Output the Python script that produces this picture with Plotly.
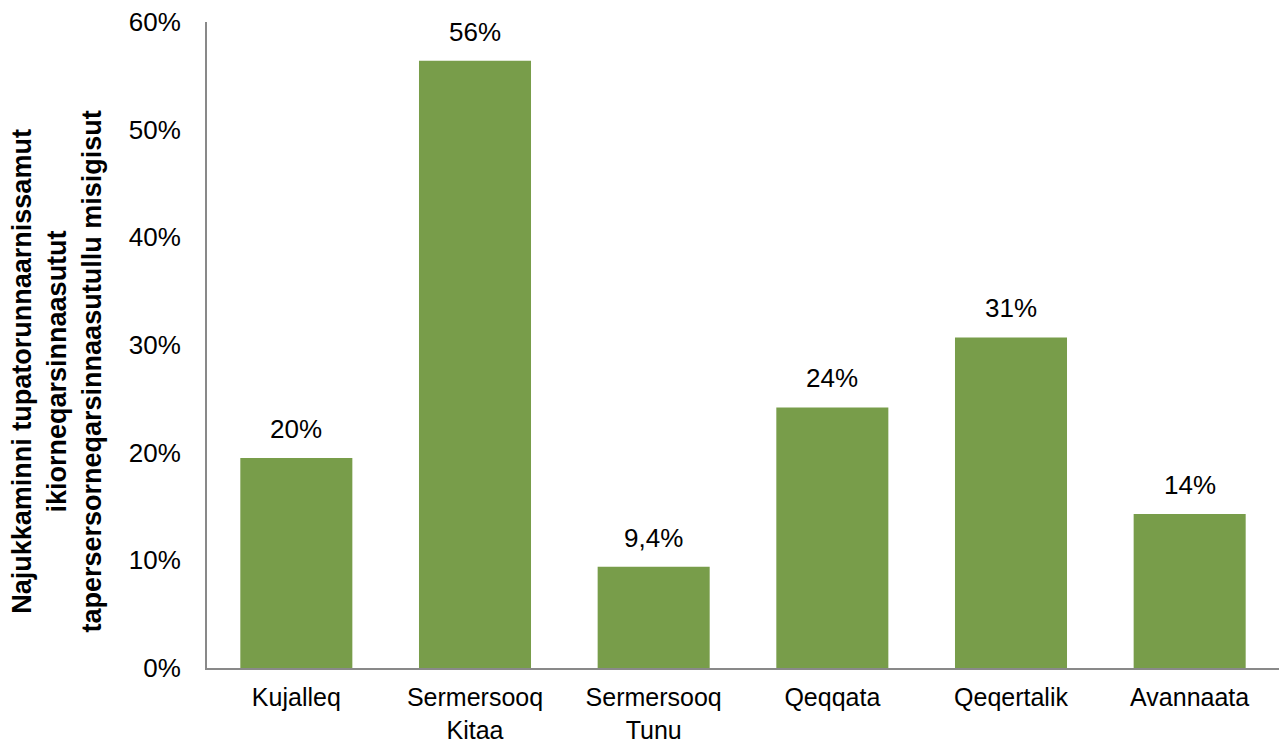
import plotly.graph_objects as go

categories = ["Kujalleq", "Sermersooq<br>Kitaa", "Sermersooq<br>Tunu", "Qeqqata", "Qeqertalik", "Avannaata"]
values = [19.5, 56.4, 9.4, 24.2, 30.7, 14.3]
labels = ["20%", "56%", "9,4%", "24%", "31%", "14%"]
tick_vals = [0, 10, 20, 30, 40, 50, 60]
tick_text = ["0%", "10%", "20%", "30%", "40%", "50%", "60%"]
y_title = "<b>Najukkaminni tupatorunnaarnissamut<br>ikiorneqarsinnaasutut<br>tapersersorneqarsinnaasutullu misigisut</b>"

FONT = "Liberation Sans, Arial, sans-serif"
BAR = "#789D4A"
AXIS = "#898989"

fig = go.Figure()
fig.add_trace(go.Bar(x=categories, y=values, marker=dict(color=BAR, line=dict(width=0)),
                     hoverinfo="skip"))

for c, v, t in zip(categories, values, labels):
    fig.add_annotation(x=c, y=v, text=t, showarrow=False, yanchor="bottom", yshift=12,
                       font=dict(family=FONT, size=26, color="#000000"))

fig.add_annotation(xref="paper", yref="paper", x=(56 - 207) / (1279 - 207), y=(667.5 - 371) / 646,
                   text=y_title, textangle=-90, showarrow=False, xanchor="center", yanchor="middle",
                   font=dict(family=FONT, size=27, color="#000000"), align="center")

fig.update_layout(
    width=1282, height=742,
    margin=dict(l=207, r=3, t=22, b=74, pad=0),
    paper_bgcolor="white", plot_bgcolor="white",
    bargap=0.373,
    showlegend=False,
    font=dict(family=FONT, size=26, color="#000000"),
)
fig.update_xaxes(showline=True, linecolor=AXIS, linewidth=2, showgrid=False, ticks="",
                 tickfont=dict(family=FONT, size=25, color="#000000"), ticklabelstandoff=6,
                 zeroline=False, automargin=False)
fig.update_yaxes(range=[0, 60], tickvals=tick_vals, ticktext=tick_text, showline=True,
                 linecolor=AXIS, linewidth=2, showgrid=False, ticks="", zeroline=False,
                 tickfont=dict(family=FONT, size=26, color="#000000"), ticklabelstandoff=19,
                 automargin=False)

fig.write_html("out.html", config={"displayModeBar": False},
               post_script="document.body.style.margin='0';document.body.style.overflow='hidden';")
